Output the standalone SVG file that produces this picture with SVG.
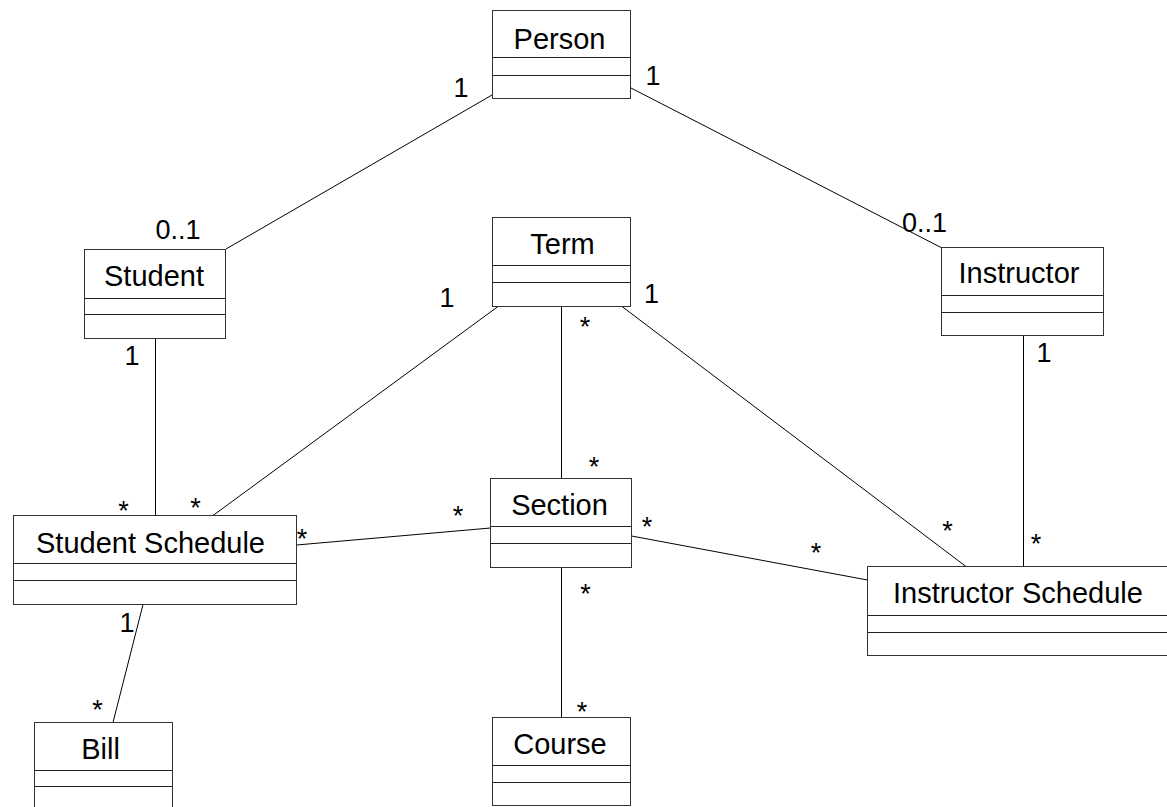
<svg xmlns="http://www.w3.org/2000/svg" width="1167" height="807" viewBox="0 0 1167 807">
  <style>
    .box { fill: #ffffff; stroke: #333333; stroke-width: 1; }
    .div { stroke: #222222; stroke-width: 1; }
    .name { font-family: "Liberation Sans", Arial, sans-serif; font-size: 29px; fill: #000; text-anchor: middle; }
    .mult { font-family: "Liberation Sans", Arial, sans-serif; font-size: 27px; fill: #000; text-anchor: middle; }
    .edge { stroke: #000; stroke-width: 1; fill: none; }
  </style>
  <rect width="1167" height="807" fill="#ffffff"/>

  <!-- associations -->
  <g id="connectors">
    <line class="edge" x1="492" y1="95" x2="226" y2="249"/>
    <line class="edge" x1="631" y1="88" x2="942" y2="248"/>
    <line class="edge" x1="155.5" y1="338" x2="155.5" y2="515"/>
    <line class="edge" x1="498" y1="306.5" x2="213" y2="515.5"/>
    <line class="edge" x1="561.5" y1="306.5" x2="561.5" y2="478.5"/>
    <line class="edge" x1="622" y1="306.5" x2="966" y2="566.5"/>
    <line class="edge" x1="1023.5" y1="335.5" x2="1023.5" y2="566.5"/>
    <line class="edge" x1="296.5" y1="545" x2="490.5" y2="528"/>
    <line class="edge" x1="631.5" y1="536" x2="867.5" y2="580"/>
    <line class="edge" x1="561.5" y1="567.5" x2="561.5" y2="717.5"/>
    <line class="edge" x1="143" y1="604.5" x2="113" y2="722.5"/>
  </g>

  <!-- multiplicities -->
  <g id="multiplicities">
    <text class="mult" x="461" y="97">1</text>
    <text class="mult" x="653" y="85">1</text>
    <text class="mult" x="155.5" y="239" style="text-anchor:start">0..1</text>
    <text class="mult" x="902" y="232" style="text-anchor:start">0..1</text>
    <text class="mult" x="447" y="307">1</text>
    <text class="mult" x="651.5" y="303">1</text>
    <text class="mult" x="585" y="336">*</text>
    <text class="mult" x="132" y="365">1</text>
    <text class="mult" x="1044" y="362">1</text>
    <text class="mult" x="594" y="476">*</text>
    <text class="mult" x="458" y="525">*</text>
    <text class="mult" x="647" y="536">*</text>
    <text class="mult" x="123.5" y="520">*</text>
    <text class="mult" x="195.5" y="517">*</text>
    <text class="mult" x="302" y="548">*</text>
    <text class="mult" x="127" y="632">1</text>
    <text class="mult" x="97.5" y="719">*</text>
    <text class="mult" x="585.5" y="603">*</text>
    <text class="mult" x="582" y="721">*</text>
    <text class="mult" x="947.5" y="540">*</text>
    <text class="mult" x="1036" y="553">*</text>
    <text class="mult" x="816" y="562">*</text>
  </g>

  <!-- classes -->
  <g id="person">
    <rect class="box" x="492.5" y="10.5" width="138" height="88"/>
    <line class="div" x1="492.5" y1="57.5" x2="630.5" y2="57.5"/>
    <line class="div" x1="492.5" y1="75.5" x2="630.5" y2="75.5"/>
    <text class="name" x="559.5" y="49">Person</text>
  </g>
  <g id="student">
    <rect class="box" x="84.5" y="249.5" width="141" height="89"/>
    <line class="div" x1="84.5" y1="298.5" x2="225.5" y2="298.5"/>
    <line class="div" x1="84.5" y1="314.5" x2="225.5" y2="314.5"/>
    <text class="name" x="154" y="286">Student</text>
  </g>
  <g id="term">
    <rect class="box" x="492.5" y="217.5" width="138" height="89"/>
    <line class="div" x1="492.5" y1="265.5" x2="630.5" y2="265.5"/>
    <line class="div" x1="492.5" y1="282.5" x2="630.5" y2="282.5"/>
    <text class="name" x="562.5" y="254">Term</text>
  </g>
  <g id="instructor">
    <rect class="box" x="941.5" y="247.5" width="162" height="88"/>
    <line class="div" x1="941.5" y1="295.5" x2="1103.5" y2="295.5"/>
    <line class="div" x1="941.5" y1="312.5" x2="1103.5" y2="312.5"/>
    <text class="name" x="1019" y="283">Instructor</text>
  </g>
  <g id="student-schedule">
    <rect class="box" x="13.5" y="515.5" width="283" height="89"/>
    <line class="div" x1="13.5" y1="563.5" x2="296.5" y2="563.5"/>
    <line class="div" x1="13.5" y1="580.5" x2="296.5" y2="580.5"/>
    <text class="name" x="150.5" y="553">Student Schedule</text>
  </g>
  <g id="section">
    <rect class="box" x="490.5" y="478.5" width="141" height="89"/>
    <line class="div" x1="490.5" y1="526.5" x2="631.5" y2="526.5"/>
    <line class="div" x1="490.5" y1="543.5" x2="631.5" y2="543.5"/>
    <text class="name" x="559.5" y="515">Section</text>
  </g>
  <g id="instructor-schedule">
    <rect class="box" x="867.5" y="566.5" width="303" height="89"/>
    <line class="div" x1="867.5" y1="615.5" x2="1170.5" y2="615.5"/>
    <line class="div" x1="867.5" y1="632.5" x2="1170.5" y2="632.5"/>
    <text class="name" x="1018" y="603">Instructor Schedule</text>
  </g>
  <g id="bill">
    <rect class="box" x="34.5" y="722.5" width="138" height="89"/>
    <line class="div" x1="34.5" y1="770.5" x2="172.5" y2="770.5"/>
    <line class="div" x1="34.5" y1="786.5" x2="172.5" y2="786.5"/>
    <text class="name" x="100.5" y="759">Bill</text>
  </g>
  <g id="course">
    <rect class="box" x="492.5" y="717.5" width="138" height="88"/>
    <line class="div" x1="492.5" y1="765.5" x2="630.5" y2="765.5"/>
    <line class="div" x1="492.5" y1="782.5" x2="630.5" y2="782.5"/>
    <text class="name" x="560" y="754">Course</text>
  </g>
</svg>
